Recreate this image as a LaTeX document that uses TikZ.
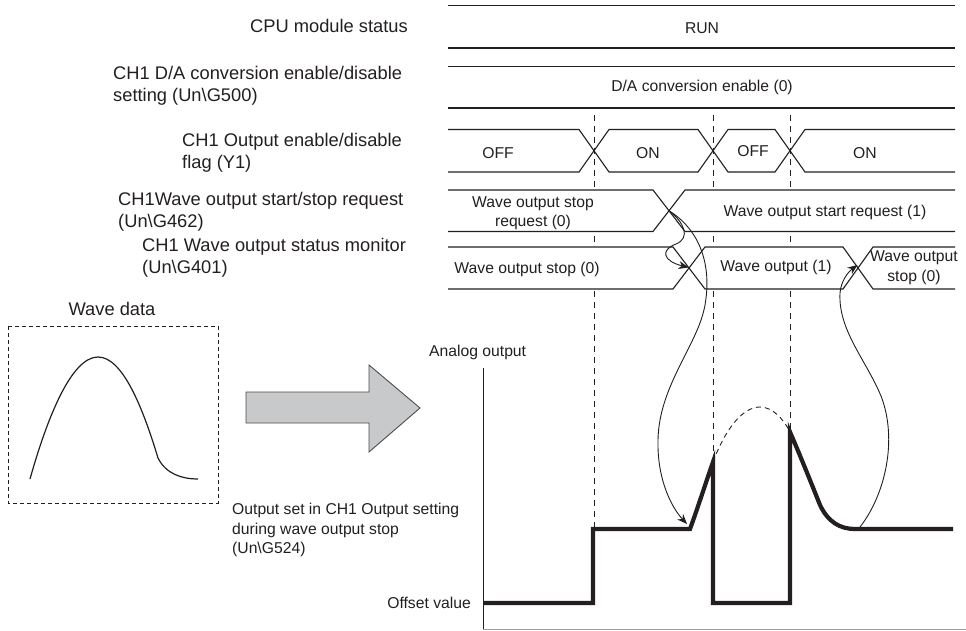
\documentclass[tikz,border=0pt]{standalone}
\usepackage{fontspec}
\setmainfont{Liberation Sans}
\usetikzlibrary{arrows.meta}
\definecolor{ink}{HTML}{231F20}
\definecolor{arrowgray}{HTML}{C8C9CA}
\begin{document}
\begin{tikzpicture}[x=1pt,y=-1pt,
  rowfill/.style={fill=white,draw=none},
  rowline/.style={draw=ink,line width=1.1pt,line join=miter},
  guide/.style={draw=ink,line width=0.9pt,dash pattern=on 6pt off 5pt},
  wavepath/.style={draw=ink,line width=4.2pt,line join=miter},
  link/.style={draw=ink,line width=0.9pt,-{Stealth[length=10pt,width=8pt]}},
  lbl/.style={font=\fontsize{18.3}{22}\selectfont,text=ink,inner sep=0pt,align=left},
  sig/.style={font=\fontsize{15.7}{19.5}\selectfont,text=ink,inner sep=0pt,align=center}]
\useasboundingbox (0,0) rectangle (966,631);

% ---- dashed timing guides
\draw[guide] (594,115) -- (594,527);
\draw[guide] (713,115) -- (713,460);
\draw[guide] (790,115) -- (790,430);

% ---- row 1 and 2
\draw[rowline] (448,5.7) -- (955,5.7);
\draw[rowline] (448,48) -- (955,48);
\draw[rowline] (448,66.7) -- (955,66.7);
\draw[rowline] (448,108) -- (955,108);

% ---- row 3 (Y1)
\path[rowfill] (448,129.5) -- (579,129.5) -- (594,150.75) -- (579,172) -- (448,172) -- cycle;
\path[rowfill] (594,150.75) -- (609,129.5) -- (698,129.5) -- (713,150.75) -- (698,172) -- (609,172) -- cycle;
\path[rowfill] (713,150.75) -- (728,129.5) -- (775,129.5) -- (790,150.75) -- (775,172) -- (728,172) -- cycle;
\path[rowfill] (790,150.75) -- (805,129.5) -- (955,129.5) -- (955,172) -- (805,172) -- cycle;
\draw[rowline] (448,129.5) -- (579,129.5) -- (609,172) -- (698,172) -- (728,129.5) -- (775,129.5) -- (805,172) -- (955,172);
\draw[rowline] (448,172) -- (579,172) -- (609,129.5) -- (698,129.5) -- (728,172) -- (775,172) -- (805,129.5) -- (955,129.5);

% ---- row 4 (G462)
\path[rowfill] (448,190) -- (653,190) -- (669,210.75) -- (653,231.5) -- (448,231.5) -- cycle;
\path[rowfill] (669,210.75) -- (685,190) -- (955,190) -- (955,231.5) -- (685,231.5) -- cycle;
\draw[rowline] (448,190) -- (653,190) -- (685,231.5) -- (955,231.5);
\draw[rowline] (448,231.5) -- (653,231.5) -- (685,190) -- (955,190);

% ---- row 5 (G401)
\path[rowfill] (448,247) -- (673,247) -- (689,268) -- (673,289) -- (448,289) -- cycle;
\path[rowfill] (689,268) -- (705,247) -- (843,247) -- (858,268) -- (843,289) -- (705,289) -- cycle;
\path[rowfill] (858,268) -- (873,247) -- (955,247) -- (955,289) -- (873,289) -- cycle;
\draw[rowline] (448,247) -- (673,247) -- (705,289) -- (843,289) -- (873,247) -- (955,247);
\draw[rowline] (448,289) -- (673,289) -- (705,247) -- (843,247) -- (873,289) -- (955,289);

% ---- named points
\coordinate (r4x) at (669,210.75);
\coordinate (r5xa) at (688.5,267.5);
\coordinate (r5xb) at (857.5,265);
\coordinate (wkink) at (687,524);
\coordinate (wend) at (860,527);

% ---- axes
\draw[ink,line width=1pt] (483,368) -- (483,630);
\draw[gray!75,line width=1.2pt] (483,629.6) -- (966,629.6);

% ---- analog output waveform
\draw[wavepath] (483,603) -- (593,603) -- (593,529) -- (690,529)
  .. controls (697,510) and (706,482) .. (713,462) -- (713,603) -- (790,603) -- (790,432)
  .. controls (800,455) and (812,485) .. (820,505)
  .. controls (828,522) and (840,529) .. (855,529) -- (953,529);
\draw[ink,line width=0.9pt,dash pattern=on 5pt off 4pt] (713,462)
  .. controls (725,430) and (742,407) .. (760,407)
  .. controls (772,407) and (783,418) .. (790,432);

% ---- relation arrows
\draw[link] (r4x) .. controls (684,222) and (691,238) .. (676,244)
  .. controls (660,250) and (663,261) .. (r5xa);
\draw[link] (r4x) .. controls (700,230) and (712,265) .. (705,305)
  .. controls (698,345) and (659,385) .. (658,440)
  .. controls (657,480) and (672,508) .. (wkink);
\draw[link] (wend) .. controls (885,495) and (898,440) .. (881,396)
  .. controls (866,360) and (838,330) .. (840,293)
  .. controls (841,281) and (848,272) .. (r5xb);

% ---- wave data box
\draw[ink,line width=0.9pt,dash pattern=on 4pt off 3pt] (8,326) rectangle (218,503);
\draw[ink,line width=1.2pt] (30,479) .. controls (48,415) and (72,357) .. (98,357)
  .. controls (122,357) and (142,405) .. (158,458)
  .. controls (166,474) and (182,479) .. (198,479);
\draw[draw=ink!80,fill=arrowgray,line width=0.9pt,line join=miter]
  (246,392) -- (369,392) -- (369,365) -- (420,408) -- (369,452) -- (369,423) -- (246,423) -- cycle;

% ---- left labels
\node[lbl,anchor=west] (lcpu) at (250,26) {CPU module status};
\node[lbl,anchor=west] (lda) at (113,86) {CH1 D/A conversion enable/disable\\setting (Un\textbackslash G500)};
\node[lbl,anchor=west] (ly1) at (182,153) {CH1 Output enable/disable\\flag (Y1)};
\node[lbl,anchor=west] (lreq) at (118,211.5) {CH1Wave output start/stop request\\(Un\textbackslash G462)};
\node[lbl,anchor=west] (lmon) at (142,257.5) {CH1 Wave output status monitor\\(Un\textbackslash G401)};
\node[lbl,anchor=center] (lwd) at (112,309) {Wave data};

% ---- signal labels
\node[sig] (trun) at (702,28) {RUN};
\node[sig] (tda) at (702,87) {D/A conversion enable (0)};
\node[sig] (toff1) at (498,153) {OFF};
\node[sig] (ton1) at (648,153) {ON};
\node[sig] (toff2) at (753,151) {OFF};
\node[sig] (ton2) at (865,153) {ON};
\node[sig] (tstopreq) at (533,213) {Wave output stop\\request (0)};
\node[sig] (tstartreq) at (825,212) {Wave output start request (1)};
\node[sig] (tstop) at (527,269) {Wave output stop (0)};
\node[sig] (twave) at (776,267) {Wave output (1)};
\node[sig] (tstop2) at (914,267.5) {Wave output\\stop (0)};

% ---- analog labels
\node[sig,anchor=west] (tana) at (429,352) {Analog output};
\node[sig,anchor=west,align=left] (tset) at (232,530) {Output set in CH1 Output setting\\during wave output stop\\(Un\textbackslash G524)};
\node[sig,anchor=east] (toffs) at (471,603) {Offset value};
\end{tikzpicture}
\end{document}
